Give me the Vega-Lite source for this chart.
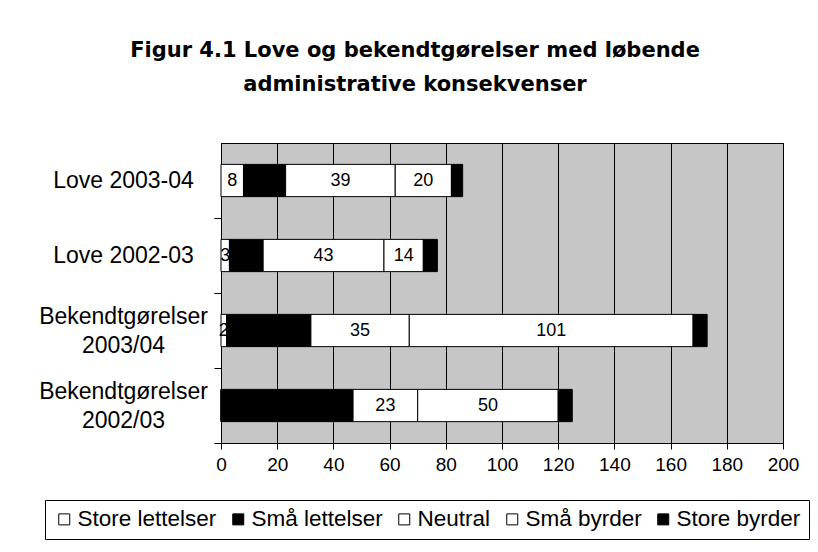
{
  "$schema": "https://vega.github.io/schema/vega-lite/v6.json",
  "autosize": "none",
  "width": 562,
  "height": 300,
  "padding": {"left": 221, "top": 143, "right": 35, "bottom": 109},
  "background": "white",
  "title": {
    "text": ["Figur 4.1 Love og bekendtgørelser med løbende", "administrative konsekvenser"],
    "font": "DejaVu Sans",
    "fontSize": 21,
    "fontWeight": "bold",
    "lineHeight": 34,
    "color": "black",
    "anchor": "middle",
    "dx": -87,
    "offset": 48
  },
  "data": {
    "values": [
      {"grp": "Love 2003-04", "type": "Store lettelser", "code": 1, "value": 8},
      {"grp": "Love 2003-04", "type": "Små lettelser", "code": 2, "value": 15},
      {"grp": "Love 2003-04", "type": "Neutral", "code": 3, "value": 39},
      {"grp": "Love 2003-04", "type": "Små byrder", "code": 4, "value": 20},
      {"grp": "Love 2003-04", "type": "Store byrder", "code": 5, "value": 4},
      {"grp": "Love 2002-03", "type": "Store lettelser", "code": 1, "value": 3},
      {"grp": "Love 2002-03", "type": "Små lettelser", "code": 2, "value": 12},
      {"grp": "Love 2002-03", "type": "Neutral", "code": 3, "value": 43},
      {"grp": "Love 2002-03", "type": "Små byrder", "code": 4, "value": 14},
      {"grp": "Love 2002-03", "type": "Store byrder", "code": 5, "value": 5},
      {"grp": "Bekendtgørelser 2003/04", "type": "Store lettelser", "code": 1, "value": 2},
      {"grp": "Bekendtgørelser 2003/04", "type": "Små lettelser", "code": 2, "value": 30},
      {"grp": "Bekendtgørelser 2003/04", "type": "Neutral", "code": 3, "value": 35},
      {"grp": "Bekendtgørelser 2003/04", "type": "Små byrder", "code": 4, "value": 101},
      {"grp": "Bekendtgørelser 2003/04", "type": "Store byrder", "code": 5, "value": 5},
      {"grp": "Bekendtgørelser 2002/03", "type": "Store lettelser", "code": 1, "value": 0},
      {"grp": "Bekendtgørelser 2002/03", "type": "Små lettelser", "code": 2, "value": 47},
      {"grp": "Bekendtgørelser 2002/03", "type": "Neutral", "code": 3, "value": 23},
      {"grp": "Bekendtgørelser 2002/03", "type": "Små byrder", "code": 4, "value": 50},
      {"grp": "Bekendtgørelser 2002/03", "type": "Store byrder", "code": 5, "value": 5}
    ]
  },
  "encoding": {
    "y": {
      "field": "grp",
      "type": "nominal",
      "sort": ["Love 2003-04", "Love 2002-03", "Bekendtgørelser 2003/04", "Bekendtgørelser 2002/03"],
      "scale": {"paddingInner": 0.57, "paddingOuter": 0.285},
      "axis": {
        "title": null,
        "grid": false,
        "domainColor": "black",
        "tickColor": "black",
        "tickSize": 7,
        "tickOffset": 37.5,
        "labelFont": "Liberation Sans",
        "labelFontSize": 23,
        "labelColor": "black",
        "labelLineHeight": 29,
        "labelLimit": 300,
        "labelExpr": "indexof(datum.label,'Bekendtgørelser')===0 ? split(datum.label,' ') : datum.label",
        "labelAlign": "center",
        "labelPadding": 91,
        "labelOffset": {"condition": {"test": "indexof(datum.value,'Bekendtgørelser')===0", "value": -52}, "value": -37.5}
      }
    },
    "x": {
      "field": "value",
      "type": "quantitative",
      "stack": "zero",
      "scale": {"domain": [0, 200], "nice": false},
      "axis": {
        "title": null,
        "values": [0, 20, 40, 60, 80, 100, 120, 140, 160, 180, 200],
        "grid": true,
        "gridColor": "black",
        "gridOpacity": 1,
        "gridWidth": 1,
        "domainColor": "black",
        "tickColor": "black",
        "tickSize": 6,
        "labelFont": "Liberation Sans",
        "labelFontSize": 19,
        "labelColor": "black",
        "labelPadding": 6,
        "labelFlush": false
      }
    },
    "order": {"field": "code", "type": "quantitative"}
  },
  "layer": [
    {
      "mark": {"type": "bar", "stroke": "black", "strokeWidth": 1},
      "encoding": {
        "color": {
          "field": "type",
          "type": "nominal",
          "sort": ["Store lettelser", "Små lettelser", "Neutral", "Små byrder", "Store byrder"],
          "scale": {
            "domain": ["Store lettelser", "Små lettelser", "Neutral", "Små byrder", "Store byrder"],
            "range": ["#ffffff", "#000000", "#ffffff", "#ffffff", "#000000"]
          },
          "legend": {
            "title": null,
            "orient": "none",
            "legendX": -176,
            "legendY": 357,
            "direction": "horizontal",
            "columns": 5,
            "strokeColor": "black",
            "padding": 8,
            "columnPadding": 10,
            "labelFont": "Liberation Sans",
            "labelFontSize": 22.5,
            "labelColor": "black",
            "labelOffset": 2,
            "labelLimit": 300,
            "symbolType": "square",
            "symbolSize": 121,
            "symbolStrokeColor": "black",
            "symbolStrokeWidth": 1
          }
        }
      }
    },
    {
      "mark": {"type": "text", "font": "Liberation Sans", "fontSize": 18, "color": "black", "baseline": "middle", "align": "center"},
      "encoding": {
        "x": {"field": "value", "type": "quantitative", "stack": "zero", "bandPosition": 0.5},
        "text": {
          "condition": {"test": "datum.value === 0 || datum.type === 'Små lettelser' || datum.type === 'Store byrder'", "value": ""},
          "field": "value",
          "type": "quantitative"
        }
      }
    }
  ],
  "config": {
    "view": {"fill": "#c6c6c6", "stroke": "black", "strokeWidth": 1}
  }
}
